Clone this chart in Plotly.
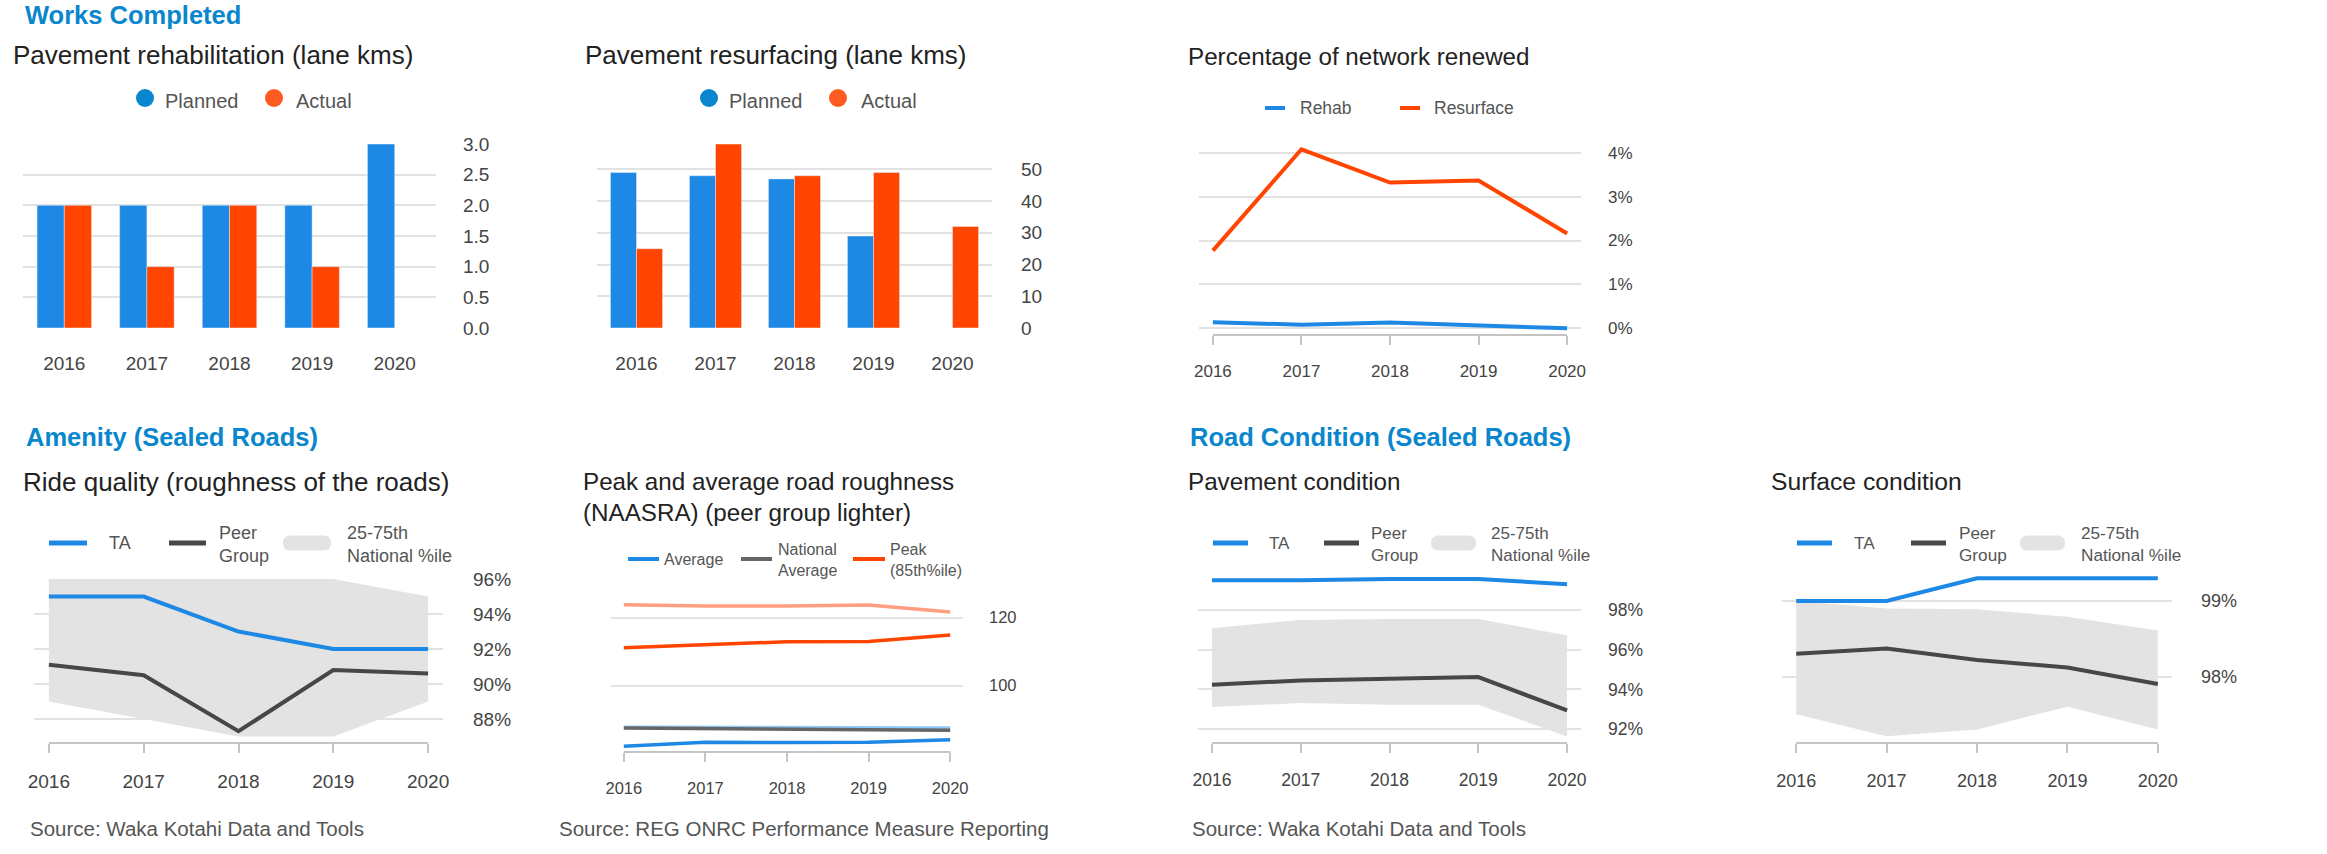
import plotly.graph_objects as go

# ---------------- data ----------------
years = [2016, 2017, 2018, 2019, 2020]
year_labels = ["2016", "2017", "2018", "2019", "2020"]

rehab_planned = [2, 2, 2, 2, 3]
rehab_actual = [2, 1, 2, 1, None]

resurf_planned = [49, 48, 47, 29, None]
resurf_actual = [25, 58, 48, 49, 32]

pct_rehab = [0.14, 0.08, 0.13, 0.06, 0.0]
pct_resurface = [1.77, 4.08, 3.32, 3.37, 2.16]

ride_ta = [95.0, 95.0, 93.0, 92.0, 92.0]
ride_peer = [91.1, 90.5, 87.3, 90.8, 90.6]
ride_p25 = [89.0, 88.0, 87.0, 87.0, 89.0]
ride_p75 = [96.0, 96.0, 96.0, 96.0, 95.0]

rough_avg = [82.1, 83.3, 83.2, 83.3, 84.0]
rough_peer_avg = [87.7, 87.7, 87.6, 87.6, 87.5]
rough_nat_avg = [87.5, 87.4, 87.2, 87.0, 86.8]
rough_peak = [111.1, 112.0, 112.9, 113.0, 114.9]
rough_peer_peak = [123.8, 123.4, 123.4, 123.7, 121.7]

pave_ta = [99.49, 99.49, 99.56, 99.56, 99.29]
pave_peer = [94.23, 94.45, 94.53, 94.62, 92.94]
pave_p25 = [93.11, 93.31, 93.23, 93.23, 91.63]
pave_p75 = [97.08, 97.50, 97.55, 97.55, 96.71]

surf_ta = [99.0, 99.0, 99.3, 99.3, 99.3]
surf_peer = [98.30, 98.37, 98.22, 98.12, 97.90]
surf_p25 = [97.50, 97.21, 97.30, 97.60, 97.30]
surf_p75 = [99.0, 98.90, 98.89, 98.79, 98.61]

# ---------------- style ----------------
W, H = 2327, 854
FONT = "Liberation Sans, Arial, sans-serif"
BLUE = "#1E88E5"
ORANGE = "#FF4500"
PEER = "#474747"
BAND = "#E3E3E3"
GRID = "#E2E2E2"
TICKC = "#444444"
HEAD = "#0A86CC"
TITLEC = "#222222"
LEGC = "#555555"


def px(x):
    return x / W


def py(y):
    return 1 - y / H


def xdom(x0, x1):
    return [px(x0), px(x1)]


def ydom(top, bottom):
    return [py(bottom), py(top)]


fig = go.Figure()
layout = dict(
    width=W, height=H, margin=dict(l=0, r=0, t=0, b=0, pad=0, autoexpand=False),
    paper_bgcolor="white", plot_bgcolor="white",
    showlegend=False, font=dict(family=FONT, color=TICKC),
    bargap=0.34, bargroupgap=0.0, barmode="group",
)
shapes = []
annotations = []

INSET = 0.157


def axes_names(i):
    if i == 1:
        return "x", "y", "xaxis", "yaxis"
    return f"x{i}", f"y{i}", f"xaxis{i}", f"yaxis{i}"


def yaxis_style(i, dom, rng, dtick, size, fmt=None, suffix=None, standoff=24):
    xn, yn, xk, yk = axes_names(i)
    d = dict(domain=dom, range=rng, dtick=dtick, tick0=0, side="right", anchor=xn,
             showgrid=True, gridcolor=GRID, gridwidth=2, zeroline=False, showline=False,
             ticks="", tickfont=dict(size=size, color=TICKC, family=FONT), automargin=False,
             ticklabelstandoff=standoff, fixedrange=True)
    if fmt:
        d["tickformat"] = fmt
    if suffix:
        d["ticksuffix"] = suffix
    layout[yk] = d


def xaxis_bar(i, dom, size, standoff=22):
    xn, yn, xk, yk = axes_names(i)
    layout[xk] = dict(domain=dom, anchor=yn, type="category", showgrid=False, zeroline=False,
                      showline=False, ticks="", tickfont=dict(size=size, color=TICKC, family=FONT),
                      automargin=False, ticklabelstandoff=standoff, fixedrange=True)


def xaxis_line(i, dom, size, bottom_px, standoff=12):
    xn, yn, xk, yk = axes_names(i)
    layout[xk] = dict(domain=dom, anchor=yn, type="linear",
                      range=[years[0] - INSET, years[-1] + INSET],
                      tickvals=years, ticktext=year_labels, showgrid=False, zeroline=False,
                      showline=False, ticks="outside", ticklen=9, tickwidth=2, tickcolor="#C4C4C4",
                      tickfont=dict(size=size, color=TICKC, family=FONT), automargin=False,
                      ticklabelstandoff=standoff, fixedrange=True)
    shapes.append(dict(type="line", xref=xn, yref="paper", x0=years[0], x1=years[-1],
                       y0=py(bottom_px), y1=py(bottom_px), line=dict(color="#C4C4C4", width=2),
                       layer="below"))


def text(x, y, s, size, color=TITLEC, bold=False, anchor="left"):
    if bold:
        s = f"<b>{s}</b>"
    annotations.append(dict(x=px(x), y=py(y), xref="paper", yref="paper", text=s,
                            showarrow=False, xanchor=anchor, yanchor="middle", align="left",
                            font=dict(size=size, color=color, family=FONT)))


def leg_line(x0, x1, y, color, width=5):
    shapes.append(dict(type="line", xref="paper", yref="paper", x0=px(x0), x1=px(x1),
                       y0=py(y), y1=py(y), line=dict(color=color, width=width)))


def leg_dot(cx, cy, r, color):
    shapes.append(dict(type="circle", xref="paper", yref="paper", x0=px(cx - r), x1=px(cx + r),
                       y0=py(cy + r), y1=py(cy - r), fillcolor=color, line=dict(width=0)))


def leg_box(x0, x1, y, h, color):
    r = h / 2
    t, b = y - h / 2, y + h / 2
    path = (f"M {px(x0 + r)},{py(t)} L {px(x1 - r)},{py(t)} Q {px(x1)},{py(t)} {px(x1)},{py(y)} "
            f"Q {px(x1)},{py(b)} {px(x1 - r)},{py(b)} L {px(x0 + r)},{py(b)} "
            f"Q {px(x0)},{py(b)} {px(x0)},{py(y)} Q {px(x0)},{py(t)} {px(x0 + r)},{py(t)} Z")
    shapes.append(dict(type="path", xref="paper", yref="paper", path=path, fillcolor=color,
                       line=dict(width=0)))


def line_trace(i, yvals, color, width=4, name=None):
    xn, yn, _, _ = axes_names(i)
    fig.add_trace(go.Scatter(x=years, y=yvals, mode="lines", xaxis=xn, yaxis=yn, name=name,
                             line=dict(color=color, width=width), hoverinfo="skip"))


def band_trace(i, lo, hi):
    xn, yn, _, _ = axes_names(i)
    fig.add_trace(go.Scatter(x=years, y=lo, mode="lines", xaxis=xn, yaxis=yn,
                             line=dict(width=0, color=BAND), hoverinfo="skip"))
    fig.add_trace(go.Scatter(x=years, y=hi, mode="lines", xaxis=xn, yaxis=yn, fill="tonexty",
                             fillcolor=BAND, line=dict(width=0, color=BAND), hoverinfo="skip",
                             name="25-75th National %ile"))


# ---------------- Panel 1: Pavement rehabilitation ----------------
fig.add_trace(go.Bar(x=year_labels, y=rehab_planned, name="Planned", marker_color=BLUE,
                     xaxis="x", yaxis="y", offsetgroup="a"))
fig.add_trace(go.Bar(x=year_labels, y=rehab_actual, name="Actual", marker_color=ORANGE,
                     xaxis="x", yaxis="y", offsetgroup="b"))
xaxis_bar(1, xdom(23, 436), 19)
yaxis_style(1, ydom(144, 328), [0, 3.0], 0.5, 19, fmt=".1f", standoff=26)

# ---------------- Panel 2: Pavement resurfacing ----------------
fig.add_trace(go.Bar(x=year_labels, y=resurf_planned, name="Planned", marker_color=BLUE,
                     xaxis="x2", yaxis="y2", offsetgroup="a"))
fig.add_trace(go.Bar(x=year_labels, y=resurf_actual, name="Actual", marker_color=ORANGE,
                     xaxis="x2", yaxis="y2", offsetgroup="b"))
xaxis_bar(2, xdom(597, 992), 19)
yaxis_style(2, ydom(144, 328), [0, 58], 10, 19, standoff=28)

# ---------------- Panel 3: Percentage of network renewed ----------------
line_trace(3, pct_rehab, BLUE, 4, "Rehab")
line_trace(3, pct_resurface, ORANGE, 4, "Resurface")
xaxis_line(3, xdom(1199, 1581), 17, 335)
yaxis_style(3, ydom(144, 335), [-0.153, 4.2], 1, 17, suffix="%", standoff=26)

# ---------------- Panel 4: Ride quality ----------------
band_trace(4, ride_p25, ride_p75)
line_trace(4, ride_peer, PEER, 4, "Peer Group")
line_trace(4, ride_ta, BLUE, 4, "TA")
xaxis_line(4, xdom(34, 443), 19, 743)
yaxis_style(4, ydom(579, 743), [86.63, 96.0], 2, 19, suffix="%", standoff=29)

# ---------------- Panel 5: Peak and average roughness ----------------
line_trace(5, rough_peer_peak, "#FF9E80", 3.5, "Peer Peak")
line_trace(5, rough_peak, ORANGE, 3.5, "Peak (85th%ile)")
line_trace(5, rough_peer_avg, "#90CAF9", 3.5, "Peer Average")
line_trace(5, rough_nat_avg, "#666666", 3.5, "National Average")
line_trace(5, rough_avg, BLUE, 3.5, "Average")
xaxis_line(5, xdom(611, 963), 16.5, 752)
yaxis_style(5, ydom(590, 752), [80.42, 128.15], 20, 16.5, standoff=25)

# ---------------- Panel 6: Pavement condition ----------------
band_trace(6, pave_p25, pave_p75)
line_trace(6, pave_peer, PEER, 4, "Peer Group")
line_trace(6, pave_ta, BLUE, 4, "TA")
xaxis_line(6, xdom(1198, 1581), 17.5, 743)
yaxis_style(6, ydom(575, 743), [91.30, 99.76], 2, 17.5, suffix="%", standoff=26)

# ---------------- Panel 7: Surface condition ----------------
band_trace(7, surf_p25, surf_p75)
line_trace(7, surf_peer, PEER, 4, "Peer Group")
line_trace(7, surf_ta, BLUE, 4, "TA")
xaxis_line(7, xdom(1782, 2172), 18, 743)
yaxis_style(7, ydom(570, 743), [97.12, 99.41], 1, 18, suffix="%", standoff=28)

# ---------------- headings & titles ----------------
text(23, 15, "Works Completed", 25.5, HEAD, bold=True)
text(24, 437, "Amenity (Sealed Roads)", 25.5, HEAD, bold=True)
text(1188, 437, "Road Condition (Sealed Roads)", 25.5, HEAD, bold=True)

text(11, 55, "Pavement rehabilitation (lane kms)", 26)
text(583, 55, "Pavement resurfacing (lane kms)", 26)
text(1186, 57, "Percentage of network renewed", 24.2)
text(21, 482, "Ride quality (roughness of the roads)", 26)
text(581, 497, "Peak and average road roughness<br>(NAASRA) (peer group lighter)", 24.2)
text(1186, 482, "Pavement condition", 24.2)
text(1769, 482, "Surface condition", 24.7)

text(28, 828, "Source: Waka Kotahi Data and Tools", 20.5, LEGC)
text(557, 828, "Source: REG ONRC Performance Measure Reporting", 20.5, LEGC)
text(1190, 828, "Source: Waka Kotahi Data and Tools", 20.5, LEGC)

# ---------------- legends ----------------
DOT_B, DOT_O = "#0A86CF", "#FF5A1F"
leg_dot(145, 98, 9, DOT_B); text(163, 101, "Planned", 20, LEGC)
leg_dot(274, 98, 9, DOT_O); text(294, 101, "Actual", 20, LEGC)
leg_dot(709, 98, 9, DOT_B); text(727, 101, "Planned", 20, LEGC)
leg_dot(838, 98, 9, DOT_O); text(859, 101, "Actual", 20, LEGC)

leg_line(1265, 1285, 108, BLUE, 4); text(1298, 108, "Rehab", 17.5, LEGC)
leg_line(1400, 1420, 108, ORANGE, 4); text(1432, 108, "Resurface", 17.5, LEGC)


def cond_legend(x_ta0, x_ta1, x_tat, x_pe0, x_pe1, x_pet, x_b0, x_b1, x_bt, size):
    leg_line(x_ta0, x_ta1, 543, BLUE, 5)
    text(x_tat, 543, "TA", size, LEGC)
    leg_line(x_pe0, x_pe1, 543, PEER, 5)
    text(x_pet, 544, "Peer<br>Group", size, LEGC)
    leg_box(x_b0, x_b1, 543, 15, BAND)
    text(x_bt, 544, "25-75th<br>National %ile", size, LEGC)


cond_legend(49, 87, 107, 169, 206, 217, 283, 331, 345, 18)
cond_legend(1213, 1248, 1267, 1324, 1359, 1369, 1431, 1476, 1489, 17)
cond_legend(1797, 1832, 1852, 1911, 1946, 1957, 2020, 2065, 2079, 17.2)

leg_line(628, 659, 559, BLUE, 4); text(662, 559, "Average", 16, LEGC)
leg_line(741, 772, 559, "#666666", 4); text(776, 560, "National<br>Average", 16, LEGC)
leg_line(853, 885, 559, ORANGE, 4); text(888, 560, "Peak<br>(85th%ile)", 16, LEGC)

layout["shapes"] = shapes
layout["annotations"] = annotations
fig.update_layout(**layout)
fig.write_html(
    "out.html",
    config={"displayModeBar": False},
    post_script="document.body.style.margin='0';document.body.style.padding='0';"
                "document.body.style.overflow='hidden';",
)
